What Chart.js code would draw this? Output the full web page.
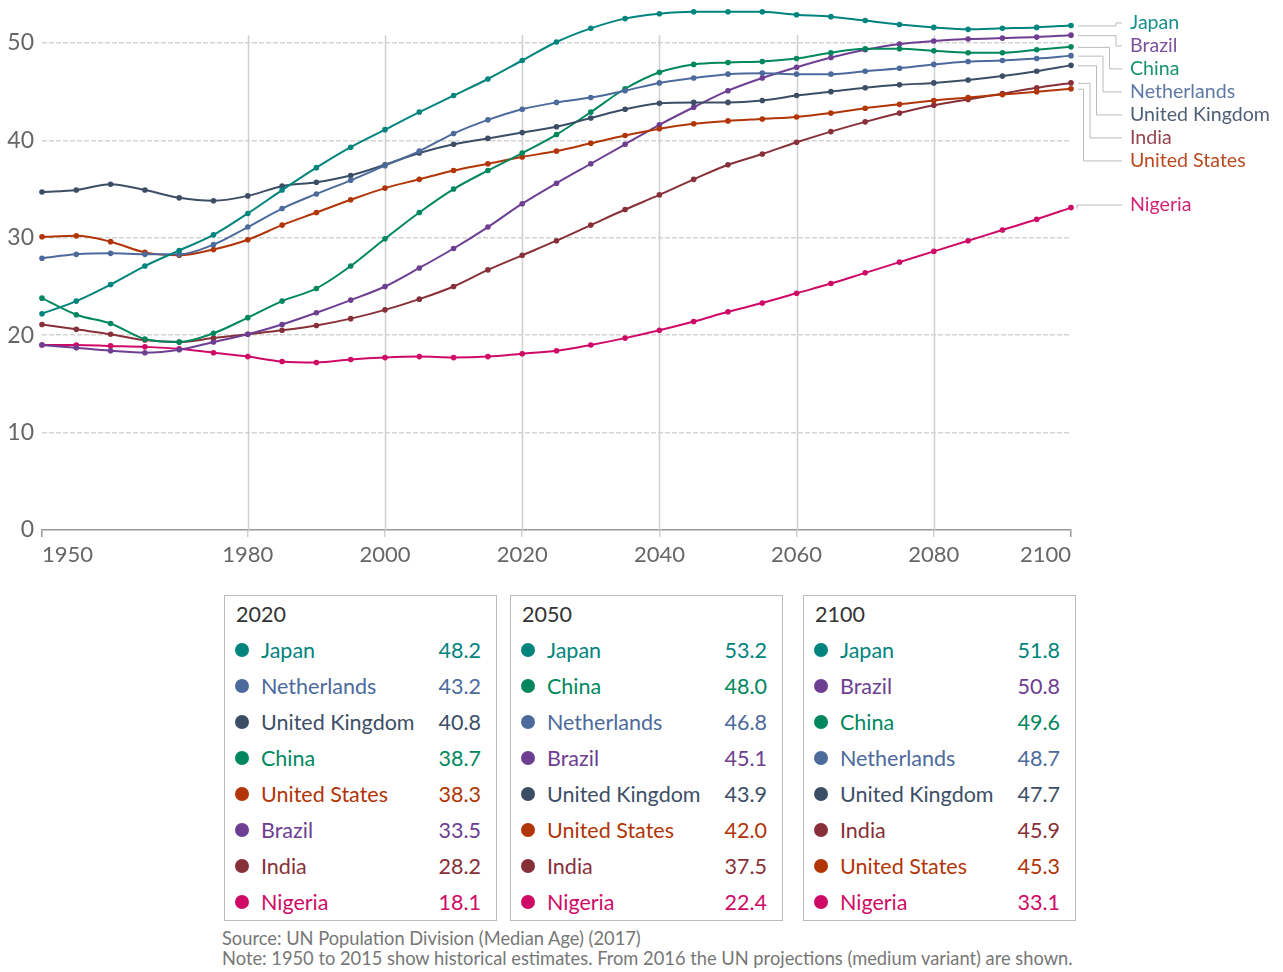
<!DOCTYPE html>
<html>
<head>
<meta charset="utf-8">
<script src="https://cdn.jsdelivr.net/npm/chart.js@4"></script>
<style>
  body { margin: 0; background: #fff; font-family: Lato, "Noto Sans", sans-serif; }
  #wrap { position: absolute; left: 0; top: 0; width: 1283px; height: 577px; }
  .box { position: absolute; top: 595px; width: 271px; border: 1px solid #bbb; background: rgba(255,255,255,0.92); }
  .box .titulo { height: 36px; line-height: 36px; padding-left: 11px; font-size: 21.5px; color: #333; }
  .row { height: 36px; line-height: 36px; font-size: 21.5px; position: relative; }
  .row .dot { position: absolute; left: 10px; top: 11px; width: 14px; height: 14px; border-radius: 50%; }
  .row .nome { position: absolute; left: 36px; }
  .row .valor { position: absolute; right: 15px; }
  #fonte { position: absolute; left: 222px; top: 928px; font-size: 18.3px; line-height: 20px; color: #777; }
</style>
</head>
<body>
<div id="wrap"><canvas id="grafico"></canvas></div>
<div id="tabelas"></div>
<div id="fonte">Source: UN Population Division (Median Age) (2017)<br>Note: 1950 to 2015 show historical estimates. From 2016 the UN projections (medium variant) are shown.</div>
<script>
const anos = [];
for (let a = 1950; a <= 2100; a += 5) anos.push(a);

const anosEixo = [1950, 1980, 2000, 2020, 2040, 2060, 2080, 2100];
const valoresEixoY = [0, 10, 20, 30, 40, 50];
const anosTabela = [2020, 2050, 2100];

const japao = [22.2, 23.5, 25.2, 27.1, 28.7, 30.3, 32.5, 34.9, 37.2, 39.3, 41.1, 42.9, 44.6, 46.3, 48.2, 50.1, 51.5, 52.5, 53.0, 53.2, 53.2, 53.2, 52.9, 52.7, 52.3, 51.9, 51.6, 51.4, 51.5, 51.6, 51.8];
const holanda = [27.9, 28.3, 28.4, 28.3, 28.3, 29.3, 31.1, 33.0, 34.5, 35.9, 37.4, 38.9, 40.7, 42.1, 43.2, 43.9, 44.4, 45.1, 45.9, 46.4, 46.8, 46.9, 46.8, 46.8, 47.1, 47.4, 47.8, 48.1, 48.2, 48.4, 48.7];
const reinoUnido = [34.7, 34.9, 35.5, 34.9, 34.1, 33.8, 34.3, 35.3, 35.7, 36.4, 37.5, 38.7, 39.6, 40.2, 40.8, 41.4, 42.3, 43.2, 43.8, 43.9, 43.9, 44.1, 44.6, 45.0, 45.4, 45.7, 45.9, 46.2, 46.6, 47.1, 47.7];
const china = [23.8, 22.1, 21.2, 19.6, 19.3, 20.2, 21.8, 23.5, 24.8, 27.1, 29.9, 32.6, 35.0, 36.9, 38.7, 40.6, 42.9, 45.3, 47.0, 47.8, 48.0, 48.1, 48.4, 49.0, 49.4, 49.4, 49.2, 49.0, 49.0, 49.3, 49.6];
const eua = [30.1, 30.2, 29.6, 28.5, 28.2, 28.8, 29.8, 31.3, 32.6, 33.9, 35.1, 36.0, 36.9, 37.6, 38.3, 38.9, 39.7, 40.5, 41.2, 41.7, 42.0, 42.2, 42.4, 42.8, 43.3, 43.7, 44.1, 44.4, 44.7, 45.0, 45.3];
const brasil = [19.0, 18.7, 18.4, 18.2, 18.5, 19.3, 20.1, 21.1, 22.3, 23.6, 25.0, 26.9, 28.9, 31.1, 33.5, 35.6, 37.6, 39.6, 41.6, 43.4, 45.1, 46.4, 47.5, 48.5, 49.3, 49.9, 50.2, 50.4, 50.5, 50.6, 50.8];
const india = [21.1, 20.6, 20.1, 19.5, 19.3, 19.7, 20.1, 20.5, 21.0, 21.7, 22.6, 23.7, 25.0, 26.7, 28.2, 29.7, 31.3, 32.9, 34.4, 36.0, 37.5, 38.6, 39.8, 40.9, 41.9, 42.8, 43.6, 44.2, 44.8, 45.4, 45.9];
const nigeria = [19.0, 19.0, 18.9, 18.8, 18.6, 18.2, 17.8, 17.3, 17.2, 17.5, 17.7, 17.8, 17.7, 17.8, 18.1, 18.4, 19.0, 19.7, 20.5, 21.4, 22.4, 23.3, 24.3, 25.3, 26.4, 27.5, 28.6, 29.7, 30.8, 31.9, 33.1];

const series = [
  { nome: "Japan", cor: "#00847E", dados: japao },
  { nome: "Netherlands", cor: "#4C6A9C", dados: holanda },
  { nome: "United Kingdom", cor: "#3C4E66", dados: reinoUnido },
  { nome: "China", cor: "#00875E", dados: china },
  { nome: "United States", cor: "#B13507", dados: eua },
  { nome: "Brazil", cor: "#6D3E91", dados: brasil },
  { nome: "India", cor: "#883039", dados: india },
  { nome: "Nigeria", cor: "#CF0A66", dados: nigeria }
];

// linhas verticais da grade, so ate pouco acima de 50
const gradeVertical = {
  id: "gradeVertical",
  beforeDatasetsDraw(chart) {
    const ctx = chart.ctx;
    const x = chart.scales.x, y = chart.scales.y;
    const topo = y.getPixelForValue(50.8);
    ctx.save();
    ctx.strokeStyle = "#d0d0d0";
    ctx.lineWidth = 1.5;
    x.ticks.forEach(t => {
      if (t.value === 1950 || t.value === 2100) return;
      const px = Math.round(x.getPixelForValue(t.value)) + 0.5;
      ctx.beginPath();
      ctx.moveTo(px, topo);
      ctx.lineTo(px, chart.chartArea.bottom);
      ctx.stroke();
    });
    ctx.restore();
  }
};

// rotulos no fim das linhas, com linhas-guia
const rotulosFinais = {
  id: "rotulosFinais",
  afterDatasetsDraw(chart) {
    const ctx = chart.ctx;
    const pontos = chart.data.datasets.map((ds, i) => {
      const meta = chart.getDatasetMeta(i);
      const p = meta.data[meta.data.length - 1];
      return { nome: ds.label, cor: ds.borderColor, x: p.x, y: p.y };
    }).sort((a, b) => a.y - b.y);

    let anterior = -Infinity;
    pontos.forEach(p => {
      p.ly = Math.max(p.y - 3, anterior + 23);
      anterior = p.ly;
    });

    ctx.save();
    ctx.font = "19.6px Lato";
    ctx.textBaseline = "middle";
    const x0 = chart.chartArea.right + 7;
    const x2 = x0 + 44;
    pontos.forEach((p, k) => {
      ctx.strokeStyle = "#bbb";
      ctx.lineWidth = 1;
      ctx.beginPath();
      if (Math.abs(p.ly - p.y) > 1) {
        const x1 = x0 + 38 - 6.5 * Math.max(0, k - 1);
        ctx.moveTo(x0, p.y + 0.5);
        ctx.lineTo(x1, p.y + 0.5);
        ctx.lineTo(x1, p.ly + 0.5);
        ctx.lineTo(x2, p.ly + 0.5);
      } else {
        ctx.moveTo(x0, p.y + 0.5);
        ctx.lineTo(x2, p.y + 0.5);
      }
      ctx.stroke();
      ctx.fillStyle = p.cor;
      ctx.globalAlpha = 0.9;
      ctx.fillText(p.nome, x2 + 8, p.ly);
      ctx.globalAlpha = 1;
    });
    ctx.restore();
  }
};

new Chart(document.getElementById("grafico"), {
  type: "line",
  data: {
    datasets: series.map(s => ({
      label: s.nome,
      data: anos.map((a, i) => ({ x: a, y: s.dados[i] })),
      borderColor: s.cor,
      backgroundColor: s.cor,
      borderWidth: 2,
      pointRadius: 2.8,
      pointBorderWidth: 0,
      pointBackgroundColor: s.cor,
      cubicInterpolationMode: "monotone",
      clip: false
    }))
  },
  options: {
    responsive: true,
    maintainAspectRatio: false,
    animation: false,
    layout: { padding: { top: 2, right: 212, left: 0, bottom: 0 } },
    plugins: { legend: { display: false }, tooltip: { enabled: false } },
    scales: {
      x: {
        type: "linear",
        min: 1950,
        max: 2100,
        afterBuildTicks: s => { s.ticks = anosEixo.map(v => ({ value: v })); },
        afterFit: s => { s.height = 47; },
        ticks: {
          align: "inner",
          color: "#666",
          font: { family: "Lato", size: 22 },
          padding: 5,
          maxRotation: 0,
          callback: v => String(v)
        },
        grid: {
          drawOnChartArea: false,
          lineWidth: 1.5,
          color: "#d0d0d0",
          tickColor: c => (c.tick && (c.tick.value === 1950 || c.tick.value === 2100)) ? "#999" : "#d0d0d0",
          tickLength: 7
        },
        border: { color: "#999", width: 1.5 }
      },
      y: {
        min: 0,
        max: 54,
        afterBuildTicks: s => { s.ticks = valoresEixoY.map(v => ({ value: v })); },
        afterFit: s => { s.width = 42; s.paddingTop = 0; s.paddingBottom = 0; },
        ticks: {
          color: "#666",
          font: { family: "Lato", size: 23 },
          padding: 8
        },
        grid: {
          color: c => (c.tick && c.tick.value === 0) ? "rgba(0,0,0,0)" : "#d4d4d4",
          lineWidth: 1.5,
          drawTicks: false
        },
        border: { display: false, dash: [5, 2] }
      }
    }
  },
  plugins: [gradeVertical, rotulosFinais]
});

// tabelas de valores
const posicoesTabela = [224, 510, 803];
const tabelas = document.getElementById("tabelas");
anosTabela.forEach((ano, t) => {
  const idx = anos.indexOf(ano);
  const linhas = series.slice().sort((a, b) => b.dados[idx] - a.dados[idx]);
  const box = document.createElement("div");
  box.className = "box";
  box.style.left = posicoesTabela[t] + "px";
  let html = `<div class="titulo">${ano}</div>`;
  linhas.forEach(s => {
    html += `<div class="row" style="color:${s.cor}"><span class="dot" style="background:${s.cor}"></span>` +
      `<span class="nome">${s.nome}</span><span class="valor">${s.dados[idx].toFixed(1)}</span></div>`;
  });
  box.innerHTML = html;
  tabelas.appendChild(box);
});
</script>
</body>
</html>
